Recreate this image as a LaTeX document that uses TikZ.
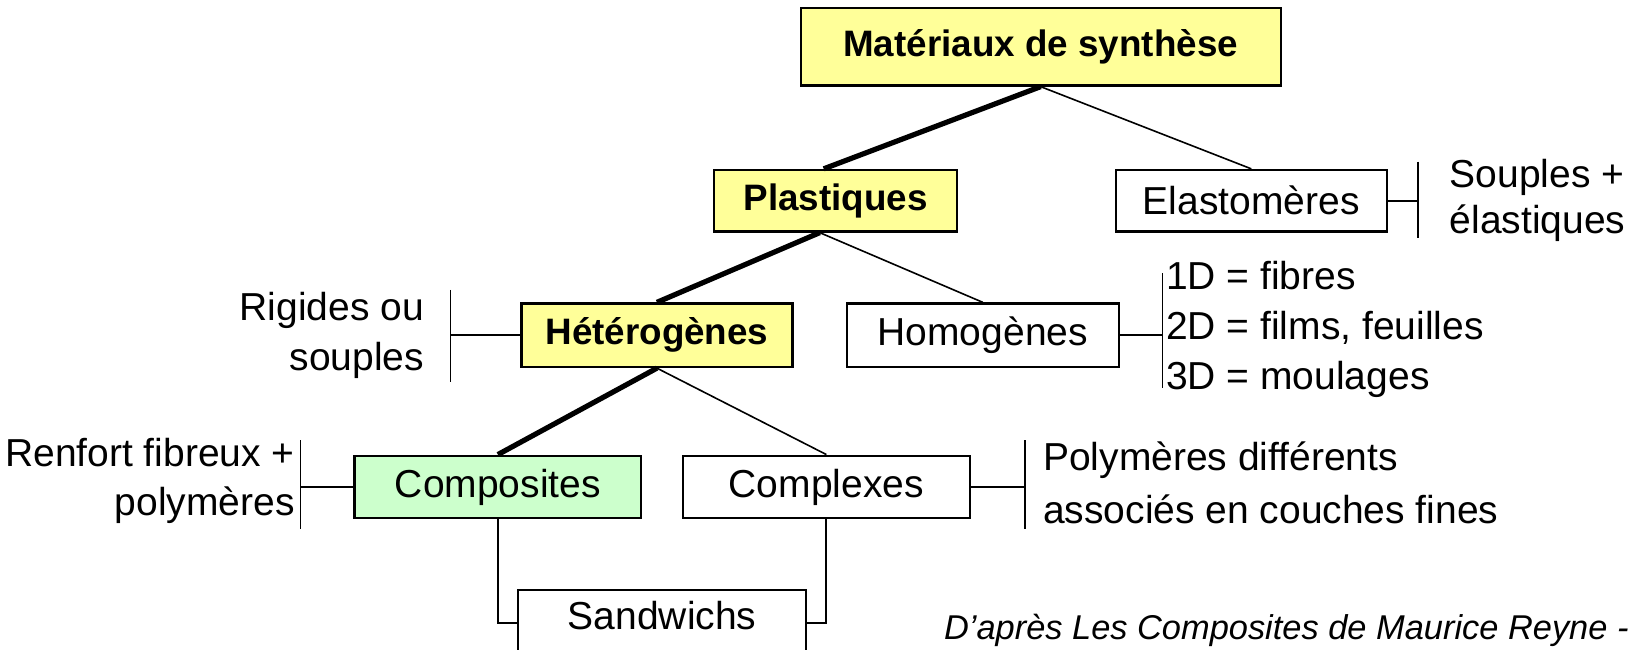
\documentclass[tikz,border=0pt]{standalone}
\usepackage{fontspec}
\setmainfont{Liberation Sans}
\usepackage{xcolor}
\usepackage{tikz}
\usetikzlibrary{positioning}
\definecolor{keyfill}{HTML}{FFFF99}
\definecolor{compfill}{HTML}{CCFFCC}

\begin{document}
\begin{tikzpicture}[
  x=0.5213pt,y=-0.5213pt,
  cat/.style={draw=black,line width=1.1pt,fill=white,inner sep=0pt,
              font=\fontsize{19.5}{23}\selectfont,minimum height=31pt,minimum width=136pt},
  keycat/.style={cat,fill=keyfill,font=\fontsize{18.4}{22}\selectfont\bfseries},
  note/.style={inner sep=0pt,font=\fontsize{19.5}{25}\selectfont},
  heavy/.style={line width=2.6pt},
  light/.style={line width=0.8pt},
  tie/.style={line width=1pt},
  bar/.style={line width=0.8pt}
]
  \clip (0,0) rectangle (1568,623);
  \useasboundingbox (0,0) rectangle (1568,623);

  % boxes
  \node[keycat,minimum width=240pt,minimum height=38.6pt] (mat) at (998,45) {Matériaux de synthèse};
  \node[keycat,minimum width=121.5pt,minimum height=30.8pt] (plast) at (801.5,192.5) {Plastiques};
  \node[cat,minimum width=135.5pt,minimum height=30.8pt] (elast) at (1200,192.5) {Elastomères};
  \node[keycat,minimum width=135.5pt,minimum height=31.8pt] (hetero) at (630,321.5) {Hétérogènes};
  \node[cat,minimum width=136pt,minimum height=31.8pt] (homo) at (942.5,321.5) {Homogènes};
  \node[cat,fill=compfill,minimum width=143.4pt,minimum height=31.3pt] (compo) at (477.5,467) {Composites};
  \node[cat,minimum width=143.4pt,minimum height=31.3pt] (cplx) at (792.5,467) {Complexes};
  \node[cat,minimum width=143.9pt,minimum height=0pt,text height=19.8pt,text depth=12.5pt,anchor=base] (sand) at (635,604) {Sandwichs};

  % tree
  \draw[heavy] (mat.south) -- ([xshift=-6pt]plast.north);
  \draw[light] (mat.south) -- (elast.north);
  \draw[heavy] ([xshift=-8pt]plast.south) -- (hetero.north);
  \draw[light] ([xshift=-8pt]plast.south) -- (homo.north);
  \draw[heavy] (hetero.south) -- (compo.north);
  \draw[light] (hetero.south) -- (cplx.north);
  \draw[tie] (compo.south) |- (sand.west);
  \draw[tie] (cplx.south) |- (sand.east);

  % side notes
  \coordinate (sbar) at (1360,192.5);
  \coordinate (rbar) at (432,321.5);
  \coordinate (dbar) at (1115,321.5);
  \coordinate (fbar) at (288,467);
  \coordinate (pbar) at (983,467);

  \draw[tie] (elast.east) -- (sbar);
  \draw[bar] (1360,155) -- (1360,228);
  \node[note,anchor=west,align=left,font=\fontsize{19.5}{22.9}\selectfont] (souple) at (1390,192) {Souples +\\élastiques};

  \draw[tie] (hetero.west) -- (rbar);
  \draw[bar] (432,278) -- (432,366);
  \node[note,anchor=east,align=right] (rigide) at (407,322) {Rigides ou\\souples};

  \draw[tie] (homo.east) -- (dbar);
  \draw[bar] (1115,262) -- (1115,372);
  \node[note,anchor=west,align=left] (dims) at (1118,316) {1D = fibres\\2D = films, feuilles\\3D = moulages};

  \draw[tie] (compo.west) -- (fbar);
  \draw[bar] (288,422) -- (288,507);
  \node[note,anchor=east,align=right,font=\fontsize{19.5}{24.5}\selectfont] (renfort) at (283,461) {Renfort fibreux +\\polymères};

  \draw[tie] (cplx.east) -- (pbar);
  \draw[bar] (983,422) -- (983,507);
  \node[note,anchor=west,align=left,font=\fontsize{19.5}{26.6}\selectfont] (poly) at (1000,463) {Polymères différents\\associés en couches fines};

  \node[inner sep=0pt,anchor=west,font=\fontsize{17.2}{20}\selectfont\itshape] (source) at (905,605) {D’après Les Composites de Maurice Reyne -};
\end{tikzpicture}
\end{document}
